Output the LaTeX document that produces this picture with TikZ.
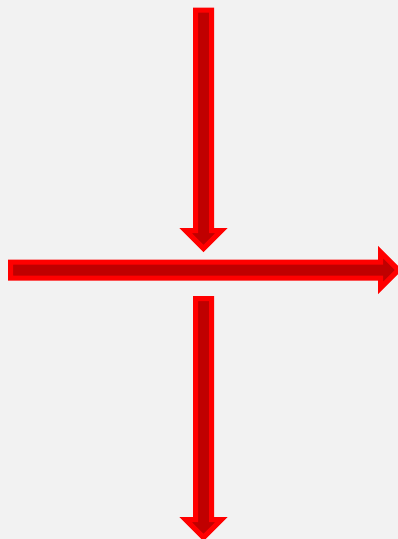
\documentclass[tikz,border=0pt]{standalone}
\usepackage{tikz}
\definecolor{bggray}{HTML}{F2F2F2}
\definecolor{arrowfill}{HTML}{C00000}
\definecolor{arrowline}{HTML}{FF0000}
\tikzset{bigarrow/.style={fill=arrowfill,draw=arrowline,line width=5pt,line join=miter}}

\begin{document}
\begin{tikzpicture}[x=1pt,y=-1pt]
\fill[bggray] (0,0) rectangle (398,539);
\useasboundingbox (0,0) rectangle (398,539);
% upper arrow, pointing down
\filldraw[bigarrow] (195.5,10) -- (211.5,10) -- (211.5,230.5) -- (221.5,230.5) -- (203.5,248.5) -- (185.5,230.5) -- (195.5,230.5) -- cycle;
% horizontal arrow, pointing right
\filldraw[bigarrow] (10.5,262) -- (380.5,262) -- (380.5,252) -- (398.5,270) -- (380.5,288) -- (380.5,278) -- (10.5,278) -- cycle;
% lower arrow, pointing down
\filldraw[bigarrow] (195.5,298.5) -- (211.5,298.5) -- (211.5,519.5) -- (221.5,519.5) -- (203.5,537.5) -- (185.5,519.5) -- (195.5,519.5) -- cycle;
\end{tikzpicture}
\end{document}
